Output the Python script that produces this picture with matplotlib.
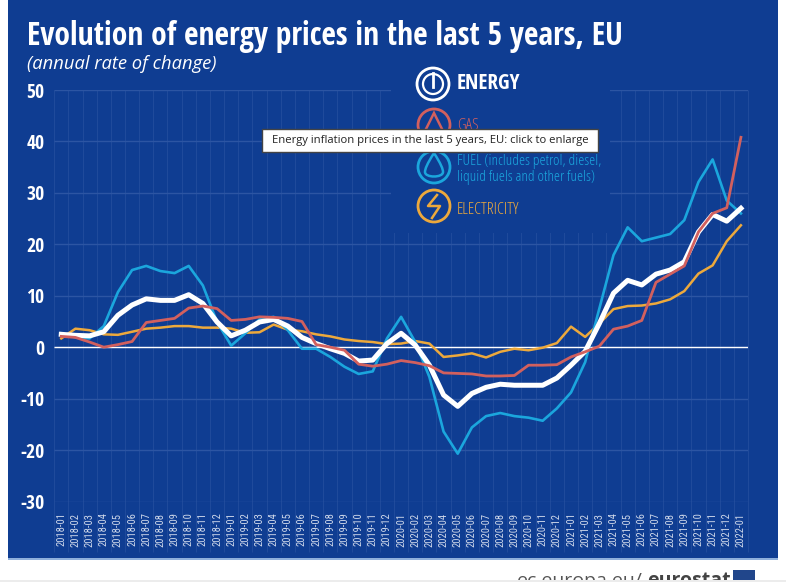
import matplotlib
matplotlib.use('Agg')
import matplotlib.pyplot as plt
from matplotlib.patches import Rectangle, Circle, Polygon, PathPatch
from matplotlib.path import Path

months = ['2018-01','2018-02','2018-03','2018-04','2018-05','2018-06','2018-07','2018-08','2018-09','2018-10','2018-11','2018-12',
          '2019-01','2019-02','2019-03','2019-04','2019-05','2019-06','2019-07','2019-08','2019-09','2019-10','2019-11','2019-12',
          '2020-01','2020-02','2020-03','2020-04','2020-05','2020-06','2020-07','2020-08','2020-09','2020-10','2020-11','2020-12',
          '2021-01','2021-02','2021-03','2021-04','2021-05','2021-06','2021-07','2021-08','2021-09','2021-10','2021-11','2021-12',
          '2022-01']
energy = [2.5,2.3,2.2,3.0,6.2,8.2,9.4,9.1,9.1,10.2,8.5,4.9,2.2,3.3,4.9,5.4,4.1,1.9,0.7,-0.3,-1.2,-2.7,-2.5,
          0.7,2.7,0.4,-3.5,-9.3,-11.5,-9.0,-7.8,-7.2,-7.4,-7.4,-7.4,-6.0,-3.5,-0.8,4.6,10.5,13.0,12.1,14.2,15.0,16.6,22.4,25.8,24.5,27.0]
gas = [2.1,1.9,1.0,0.0,0.5,1.1,4.8,5.2,5.6,7.6,8.0,7.5,5.2,5.4,5.9,5.8,5.6,5.0,0.5,0.0,-0.6,-3.3,-3.7,
       -3.3,-2.6,-3.0,-3.6,-5.0,-5.1,-5.2,-5.6,-5.6,-5.5,-3.5,-3.5,-3.4,-1.9,-0.9,0.2,3.5,4.1,5.2,12.6,14.2,15.8,22.4,26.0,27.1,40.8]
fuel = [2.7,1.9,1.7,4.1,10.7,15.0,15.8,14.8,14.4,15.8,12.0,4.9,0.3,2.7,5.4,5.9,3.3,-0.3,-0.3,-1.9,-3.8,-5.2,-4.7,
        1.7,5.9,1.0,-5.8,-16.4,-20.7,-15.6,-13.4,-12.8,-13.4,-13.7,-14.3,-11.9,-8.8,-2.9,7.5,17.9,23.3,20.6,21.3,22.0,24.7,32.1,36.5,28.5,26.0]
electricity = [1.7,3.6,3.3,2.5,2.4,3.0,3.6,3.8,4.1,4.1,3.8,3.8,3.6,2.8,2.9,4.4,3.4,3.1,2.5,2.1,1.5,1.2,1.0,
               0.6,0.7,1.2,0.7,-1.9,-1.6,-1.2,-2.0,-0.9,-0.3,-0.6,-0.1,0.8,4.0,2.0,4.6,7.4,8.0,8.1,8.5,9.3,10.9,14.3,15.9,20.6,23.7]
yticks = [-30,-20,-10,0,10,20,30,40,50]

BLUE = '#0f3d92'
GRID = '#2c55a3'
GRID2 = '#1f4a9b'
WHITE = '#ffffff'
RED = '#d2605e'
CYAN = '#1ba6dd'
ORANGE = '#eda93c'
COND_BOLD = 'Open Sans Condensed'
COND = 'Roboto Condensed'

W, H = 786, 582
fig = plt.figure(figsize=(W/100, H/100), dpi=100, facecolor='white')

# helper: pixel box to figure fraction
def fx(x): return x / W
def fy(y): return 1 - y / H

fig.add_artist(Rectangle((fx(8), fy(559)), (778-8)/W, 559/H, transform=fig.transFigure, fc=BLUE, ec='none', zorder=-3))
fig.add_artist(Rectangle((fx(8), fy(559.5)), (778-8)/W, 1.2/H, transform=fig.transFigure, fc='#8fb0dc', ec='none', zorder=-3))

ax = fig.add_axes([fx(54.2), fy(501.5), (748-54.2)/W, (501.5-90)/H], zorder=1)
ax.patch.set_alpha(0)
ax.set_xlim(-0.5, 48.5)
ax.set_ylim(-30, 50)
for s in ax.spines.values():
    s.set_visible(False)

x = list(range(len(months)))
ax.vlines([i - 0.5 for i in range(len(months) + 1)], -39.8, 50, color=GRID2, lw=0.8, clip_on=False, zorder=1)
ax.hlines(yticks, -0.5, 48.5, color=GRID, lw=1.0, zorder=1)
ax.hlines(0, -0.5, 48.5, color=WHITE, lw=1.0, zorder=2)

ax.plot(x, electricity, color=ORANGE, lw=1.8, zorder=3, solid_joinstyle='round')
ax.plot(x, fuel, color=CYAN, lw=1.9, zorder=4, solid_joinstyle='round')
ax.plot(x, energy, color=WHITE, lw=3.6, zorder=5, solid_joinstyle='round')
ax.plot(x, gas, color=RED, lw=2.0, zorder=6, solid_joinstyle='round')

ax.set_xticks(x)
ax.set_xticklabels(months, rotation=90, fontsize=7.6, color='#cfd8ea', family=COND)
ax.set_yticks(yticks)
ax.set_yticklabels([str(v) for v in yticks], fontsize=14, fontweight='bold', color=WHITE, family=COND_BOLD)
ax.tick_params(axis='both', length=0)
ax.tick_params(axis='x', pad=8)
ax.tick_params(axis='y', pad=7)

# title block
fig.text(fx(27), fy(45), 'Evolution of energy prices in the last 5 years, EU', fontsize=22.7, fontweight='bold',
         color=WHITE, family=COND_BOLD)
fig.text(fx(27), fy(69), '(annual rate of change)', fontsize=13.2, style='italic', color=WHITE, family='Open Sans')

# legend panel hides the grid behind it
fig.add_artist(Rectangle((fx(391), fy(233)), (610-391)/W, 148/H, transform=fig.transFigure, fc=BLUE, ec='none', zorder=2))

def icon(cx, cy, col, lw=2.0, r=16):
    fig.add_artist(Circle((cx, H - cy), r, transform=None, fc='none', ec=col, lw=lw, zorder=3))

icon(433, 84, WHITE, lw=2.0)
fig.add_artist(Circle((433, H - 84), 10, transform=None, fc='none', ec=WHITE, lw=1.6, zorder=3))
fig.add_artist(plt.Line2D([fx(433), fx(433)], [fy(73), fy(87)], color=WHITE, lw=2.0, zorder=4))
fig.text(fx(457), fy(89), 'ENERGY', fontsize=15.3, fontweight='bold', color=WHITE, family=COND_BOLD, zorder=3)

icon(434, 125, RED)
fig.add_artist(Polygon([(fx(434), fy(113)), (fx(444), fy(133)), (fx(424), fy(133))], closed=True, transform=fig.transFigure, fc='none', ec=RED, lw=1.8, zorder=3))
fig.text(fx(457), fy(130), 'GAS', fontsize=11.8, color=RED, family='Open Sans', stretch='condensed', zorder=3)

icon(434, 167, CYAN)
drop = Path([(fx(434), fy(153)), (fx(441), fy(164)), (fx(443), fy(169)), (fx(443), fy(172)),
             (fx(443), fy(178)), (fx(425), fy(178)), (fx(425), fy(172)),
             (fx(425), fy(169)), (fx(427), fy(164)), (fx(434), fy(153))],
            [Path.MOVETO, Path.CURVE4, Path.CURVE4, Path.CURVE4, Path.CURVE4, Path.CURVE4, Path.CURVE4,
             Path.CURVE4, Path.CURVE4, Path.CURVE4])
fig.add_artist(PathPatch(drop, transform=fig.transFigure, fc='none', ec=CYAN, lw=1.8, zorder=3))
fig.text(fx(457), fy(165), 'FUEL (includes petrol, diesel,', fontsize=11.1, color=CYAN, family='Open Sans', stretch='condensed', zorder=3)
fig.text(fx(457), fy(181), 'liquid fuels and other fuels)', fontsize=11.1, color=CYAN, family='Open Sans', stretch='condensed', zorder=3)

icon(434, 206, ORANGE)
fig.add_artist(plt.Line2D([fx(437), fx(428), fx(440), fx(432)], [fy(195), fy(206), fy(206), fy(218)], color=ORANGE, lw=1.8, zorder=3))
fig.text(fx(457), fy(214), 'ELECTRICITY', fontsize=11.8, color=ORANGE, family='Open Sans', stretch='condensed', zorder=3)

# hover tooltip
fig.add_artist(Rectangle((fx(262), fy(152)), 336/W, 23/H, transform=fig.transFigure, fc=WHITE, ec='#444444', lw=1, zorder=8))
fig.text(fx(430), fy(141), 'Energy inflation prices in the last 5 years, EU: click to enlarge', fontsize=8.15, color='#222222',
         ha='center', va='center', family='Open Sans', zorder=9)

# footer is cropped by the bottom of the picture in the reference
fig.text(fx(517), fy(586), 'ec.europa.eu/', fontsize=14, color='#555555', family='Open Sans', zorder=-2)
fig.text(fx(647), fy(586), 'eurostat', fontsize=14, fontweight='bold', color='#444444', family='Open Sans', zorder=-2)
fig.add_artist(Rectangle((fx(733), fy(580)), 22/W, 10/H, transform=fig.transFigure, fc='#21468b', ec='none', zorder=-2))
fig.add_artist(Rectangle((0, 0), 1, 2.5/H, transform=fig.transFigure, fc='#ececec', ec='none', zorder=-1))

fig.savefig('out.png', dpi=100, facecolor='white')
